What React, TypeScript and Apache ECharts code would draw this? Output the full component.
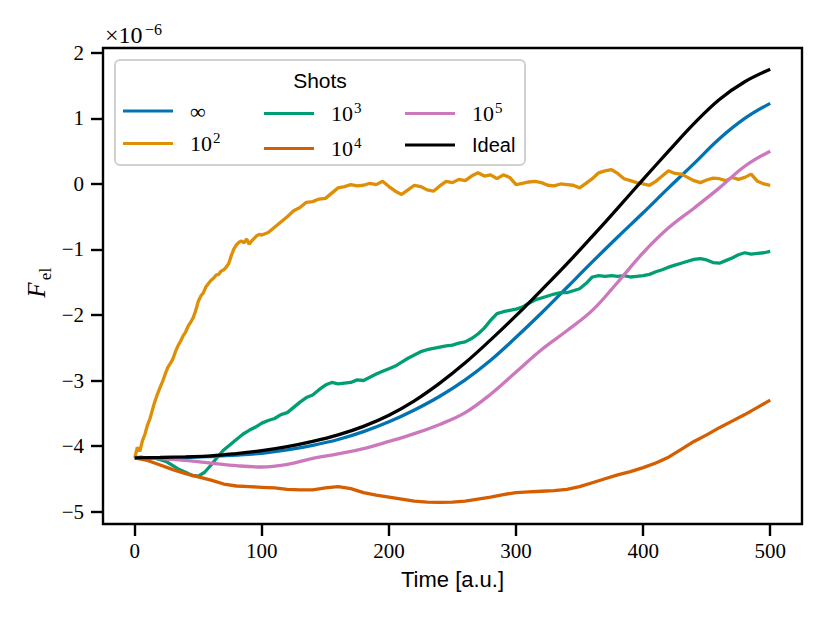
import { useEffect, useRef } from 'react';
import * as echarts from 'echarts';

const xTicks = [0, 100, 200, 300, 400, 500];
const yTicks = [-5, -4, -3, -2, -1, 0, 1, 2];

const seriesNames = ['∞', '10^2', '10^3', '10^4', '10^5', 'Ideal'];
const seriesColors = ['#0173b2', '#de8f05', '#029e73', '#d55e00', '#cc78bc', '#000000'];

const smoothX = [0, 20, 40, 60, 80, 100, 120, 140, 160, 180, 200, 220, 240, 260, 280, 300, 320, 340, 360, 380, 400, 420, 440, 460, 480, 500];
const idealY = [-4.18, -4.175, -4.165, -4.15, -4.115, -4.07, -4.01, -3.93, -3.83, -3.70, -3.53, -3.31, -3.04, -2.73, -2.38, -2.01, -1.62, -1.22, -0.80, -0.37, 0.07, 0.50, 0.92, 1.29, 1.56, 1.75];
const infY = [-4.18, -4.18, -4.175, -4.16, -4.14, -4.11, -4.06, -3.99, -3.90, -3.78, -3.63, -3.45, -3.24, -2.99, -2.69, -2.34, -1.97, -1.58, -1.19, -0.81, -0.44, -0.06, 0.31, 0.69, 1.00, 1.23];
const shots1e5Y = [-4.18, -4.19, -4.22, -4.26, -4.30, -4.32, -4.28, -4.19, -4.12, -4.04, -3.93, -3.81, -3.67, -3.49, -3.21, -2.87, -2.53, -2.24, -1.93, -1.50, -1.05, -0.67, -0.37, -0.06, 0.27, 0.50];

const shots1e4 = [
  [0, -4.18], [10, -4.22], [20, -4.29], [30, -4.36], [40, -4.42], [50, -4.47], [60, -4.52], [70, -4.58], [80, -4.61],
  [90, -4.62], [100, -4.63], [110, -4.64], [120, -4.66], [130, -4.67], [140, -4.67], [150, -4.64], [160, -4.62],
  [170, -4.65], [180, -4.71], [190, -4.75], [200, -4.78], [210, -4.81], [220, -4.84], [230, -4.855], [240, -4.86],
  [250, -4.855], [260, -4.84], [270, -4.81], [280, -4.78], [290, -4.74], [300, -4.71], [310, -4.70], [320, -4.69],
  [330, -4.68], [340, -4.66], [350, -4.62], [360, -4.56], [370, -4.50], [380, -4.44], [390, -4.39], [400, -4.33],
  [410, -4.26], [420, -4.17], [430, -4.05], [440, -3.93], [450, -3.83], [460, -3.72], [470, -3.62], [480, -3.52],
  [490, -3.41], [500, -3.30],
];

const shots1e3 = [
  [0, -4.18], [5, -4.17], [10, -4.19], [15, -4.18], [20, -4.21], [25, -4.24], [30, -4.30], [35, -4.36], [40, -4.40],
  [45, -4.45], [50, -4.46], [55, -4.40], [60, -4.29], [65, -4.17], [70, -4.06], [75, -3.98], [80, -3.90], [85, -3.82],
  [90, -3.76], [95, -3.71], [100, -3.65], [105, -3.61], [110, -3.58], [115, -3.52], [120, -3.49], [125, -3.41],
  [130, -3.33], [135, -3.26], [140, -3.22], [145, -3.14], [150, -3.07], [155, -3.03], [160, -3.05], [165, -3.04],
  [170, -3.03], [175, -2.99], [180, -3.00], [185, -2.95], [190, -2.90], [195, -2.86], [200, -2.82], [205, -2.78],
  [210, -2.72], [215, -2.66], [220, -2.61], [225, -2.56], [230, -2.53], [235, -2.51], [240, -2.49], [245, -2.47],
  [250, -2.46], [255, -2.43], [260, -2.41], [265, -2.36], [270, -2.29], [275, -2.20], [280, -2.08], [285, -1.98],
  [290, -1.95], [295, -1.93], [300, -1.91], [305, -1.88], [310, -1.82], [315, -1.77], [320, -1.74], [325, -1.71],
  [330, -1.68], [335, -1.66], [340, -1.66], [345, -1.63], [350, -1.60], [355, -1.52], [360, -1.42], [365, -1.40],
  [370, -1.41], [375, -1.40], [380, -1.41], [385, -1.40], [390, -1.42], [395, -1.41], [400, -1.40], [405, -1.38],
  [410, -1.34], [415, -1.31], [420, -1.27], [425, -1.24], [430, -1.21], [435, -1.18], [440, -1.15], [445, -1.14],
  [450, -1.16], [455, -1.20], [460, -1.21], [465, -1.17], [470, -1.13], [475, -1.08], [480, -1.05], [485, -1.07],
  [490, -1.06], [495, -1.05], [500, -1.03],
];

const shots1e2 = [
  [0, -4.18], [2, -4.02], [4, -4.08], [6, -3.92], [8, -3.82], [10, -3.68], [12, -3.58], [14, -3.44], [16, -3.31],
  [18, -3.20], [20, -3.10], [22, -3.01], [24, -2.90], [26, -2.80], [28, -2.74], [30, -2.67], [32, -2.56], [34, -2.47],
  [36, -2.40], [38, -2.32], [40, -2.26], [42, -2.17], [44, -2.11], [46, -2.04], [48, -1.93], [50, -1.79], [52, -1.71],
  [54, -1.66], [56, -1.57], [58, -1.52], [60, -1.47], [62, -1.44], [64, -1.39], [66, -1.38], [68, -1.33], [70, -1.31],
  [72, -1.27], [74, -1.21], [76, -1.09], [78, -0.99], [80, -0.93], [82, -0.89], [84, -0.87], [86, -0.90], [88, -0.84],
  [90, -0.92], [92, -0.87], [94, -0.83], [96, -0.79], [98, -0.77], [100, -0.78], [105, -0.74], [110, -0.66],
  [115, -0.58], [120, -0.50], [125, -0.41], [130, -0.36], [135, -0.28], [140, -0.27], [145, -0.23], [150, -0.22],
  [155, -0.14], [160, -0.06], [165, -0.04], [170, -0.01], [175, -0.03], [180, -0.02], [185, 0.01], [190, -0.01],
  [195, 0.04], [200, -0.04], [205, -0.11], [210, -0.16], [215, -0.09], [220, -0.02], [225, -0.04], [230, -0.09],
  [235, -0.11], [240, -0.03], [245, 0.04], [250, 0.02], [255, 0.07], [260, 0.05], [265, 0.12], [270, 0.17],
  [275, 0.12], [280, 0.14], [285, 0.08], [290, 0.14], [295, 0.10], [300, -0.01], [305, 0.01], [310, 0.03],
  [315, 0.04], [320, 0.02], [325, -0.02], [330, -0.03], [335, 0.00], [340, -0.01], [345, -0.02], [350, -0.06],
  [355, 0.01], [360, 0.08], [365, 0.17], [370, 0.20], [375, 0.22], [380, 0.16], [385, 0.08], [390, 0.05],
  [395, 0.02], [400, 0.00], [405, -0.02], [410, 0.04], [415, 0.12], [420, 0.20], [425, 0.16], [430, 0.15],
  [435, 0.10], [440, 0.05], [445, 0.02], [450, 0.06], [455, 0.09], [460, 0.08], [465, 0.05], [470, 0.10],
  [475, 0.07], [480, 0.10], [485, 0.15], [490, 0.04], [495, 0.00], [500, -0.02],
];

const SERIF = '"Liberation Serif", "DejaVu Serif", serif';
const SANS = '"Liberation Sans", "DejaVu Sans", sans-serif';

const zip = (xs: number[], ys: number[]) => xs.map((x, i) => [x, ys[i]]);

const legendLabel = (name: string) => {
  if (name === 'Ideal') return '{s|Ideal}';
  if (name === '∞') return '{m|∞}';
  const p = name.split('^');
  return `{m|${p[0]}}{sup|${p[1]}}`;
};

const legendRich = {
  s: { fontFamily: SANS, fontSize: 20, color: '#000', lineHeight: 24 },
  m: { fontFamily: SERIF, fontSize: 22, color: '#000', lineHeight: 24 },
  sup: { fontFamily: SERIF, fontSize: 15, color: '#000', lineHeight: 24, padding: [0, 0, 12, 1] },
};

export default function App() {
  const ref = useRef<HTMLDivElement>(null);
  useEffect(() => {
    document.body.style.margin = '0';
    if (!ref.current) return;
    const chart = echarts.init(ref.current, undefined, { renderer: 'svg' });
    const dataSets = [
      zip(smoothX, infY),
      shots1e2,
      shots1e3,
      shots1e4,
      zip(smoothX, shots1e5Y),
      zip(smoothX, idealY),
    ];
    const legendCols = [
      { names: ['∞', '10^2'], left: 123 },
      { names: ['10^3', '10^4'], left: 264 },
      { names: ['10^5', 'Ideal'], left: 405 },
    ];
    chart.setOption({
      animation: false,
      backgroundColor: '#fff',
      grid: {
        left: 103, right: 28, top: 48, bottom: 99,
        show: true, borderColor: '#000', borderWidth: 2.4, backgroundColor: 'transparent',
      },
      xAxis: {
        type: 'value', min: -25, max: 525,
        axisLine: { show: false, onZero: false },
        axisTick: { show: true, length: 12, lineStyle: { color: '#000', width: 2.4 }, customValues: xTicks },
        axisLabel: { customValues: xTicks, margin: 16, fontFamily: SERIF, fontSize: 21, color: '#000' },
        splitLine: { show: false },
        name: 'Time [a.u.]', nameLocation: 'middle', nameGap: 44,
        nameTextStyle: { fontFamily: SANS, fontSize: 22, color: '#000' },
      },
      yAxis: {
        type: 'value', min: -5.19, max: 2.075,
        axisLine: { show: false, onZero: false },
        axisTick: { show: true, length: 12, lineStyle: { color: '#000', width: 2.4 }, customValues: yTicks },
        axisLabel: {
          customValues: yTicks, margin: 19, fontFamily: SERIF, fontSize: 21, color: '#000',
          formatter: (v: number) => (v < 0 ? '\u2212' + Math.abs(v) : String(v)),
        },
        splitLine: { show: false },
      },
      legend: legendCols.map((c) => ({
        data: c.names,
        orient: 'vertical',
        left: c.left,
        top: 100,
        padding: 0,
        itemGap: 8,
        itemWidth: 50,
        itemHeight: 3,
        icon: 'rect',
        z: 8,
        formatter: legendLabel,
        textStyle: { rich: legendRich, padding: [0, 0, 0, 12] },
      })),
      graphic: [
        {
          type: 'rect', z: 6, silent: true,
          shape: { x: 115, y: 60, width: 410, height: 105, r: 5 },
          style: { fill: 'rgba(255,255,255,0.85)', stroke: '#d0d0d0', lineWidth: 2 },
        },
        {
          type: 'text', z: 8, x: 320, y: 80,
          style: { text: 'Shots', fontFamily: SANS, fontSize: 21, fill: '#000', align: 'center', verticalAlign: 'middle' },
        },
        {
          type: 'text', z: 8, x: 105, y: 47,
          style: { text: '×10', fontFamily: SERIF, fontSize: 24, fill: '#000', align: 'left', verticalAlign: 'bottom' },
        },
        {
          type: 'text', z: 8, x: 145, y: 21,
          style: { text: '\u22126', fontFamily: SERIF, fontSize: 16, fill: '#000', align: 'left', verticalAlign: 'top' },
        },
        {
          type: 'text', z: 8, x: 36, y: 290, rotation: Math.PI / 2,
          style: { text: 'F', fontFamily: SERIF, fontStyle: 'italic', fontSize: 25, fill: '#000', align: 'center', verticalAlign: 'middle' },
        },
        {
          type: 'text', z: 8, x: 45, y: 274, rotation: Math.PI / 2,
          style: { text: 'el', fontFamily: SERIF, fontSize: 17, fill: '#000', align: 'center', verticalAlign: 'middle' },
        },
      ],
      series: seriesNames.map((name, i) => ({
        name,
        type: 'line',
        data: dataSets[i],
        showSymbol: false,
        symbol: 'none',
        smooth: i === 0 || i === 4 || i === 5 ? 0.4 : false,
        lineStyle: { color: seriesColors[i], width: 3.3 },
        itemStyle: { color: seriesColors[i] },
        z: 2,
      })),
    });
    return () => chart.dispose();
  }, []);
  return <div ref={ref} style={{ width: 830, height: 623 }} />;
}
